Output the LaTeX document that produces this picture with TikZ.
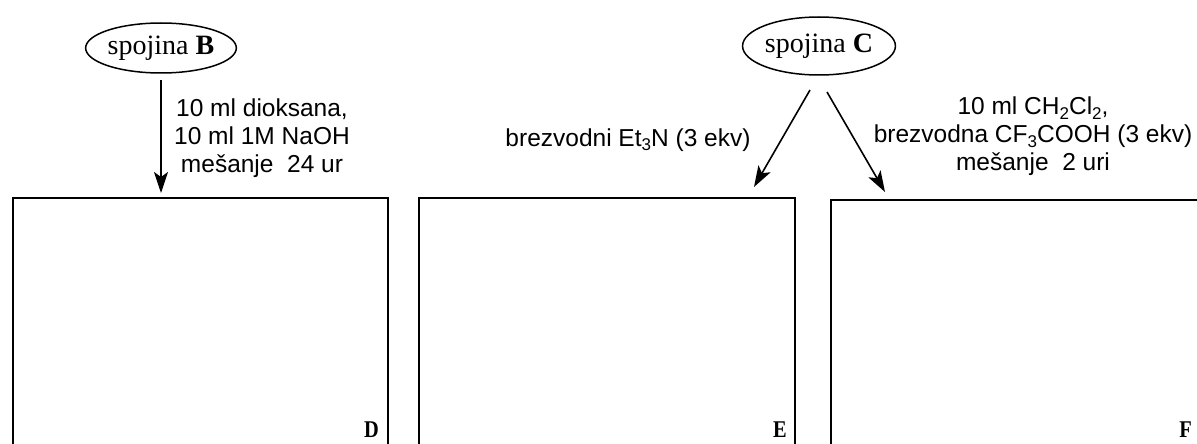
\documentclass[tikz,border=0pt]{standalone}
\usepackage{fontspec}
\setmainfont{Liberation Serif}
\newfontfamily\arial{Liberation Sans}
\usetikzlibrary{shapes.geometric,arrows.meta}
\newcommand\chsub[1]{\raisebox{-5pt}{\fontsize{17}{17}\selectfont #1}}
\begin{document}
\begin{tikzpicture}[x=1pt,y=-1pt,
  compound/.style={ellipse, draw, line width=1.5pt, minimum width=144pt, minimum height=50pt, inner sep=0pt, font=\fontsize{28}{30}\selectfont},
  cond/.style={font=\arial\fontsize{24.5}{28}\selectfont, align=center, inner sep=0pt},
  rxn/.style={-{Stealth[length=21pt,width=14pt,inset=5pt]}, line width=1.6pt},
  boxnode/.style={draw, line width=1.9pt, anchor=north west, inner sep=0pt},
  lbl/.style={font=\fontsize{24}{24}\selectfont\bfseries, inner sep=0pt, anchor=base east, xscale=0.85}]
\useasboundingbox (0,0) rectangle (1197,444);
\clip (0,0) rectangle (1197,444);
% compounds
\node[compound] (B) at (161,48) {spojina \textbf{B}};
\node[compound, minimum height=58pt, minimum width=146pt] (C) at (819,46) {spojina \textbf{C}};
% product boxes (open below the picture's edge)
\node[boxnode, minimum width=375pt, minimum height=280pt] (D) at (12,197) {};
\node[boxnode, minimum width=376pt, minimum height=280pt] (E) at (418,197) {};
\node[boxnode, minimum width=420pt, minimum height=280pt] (F) at (830,199) {};
% box labels
\node[lbl] (Dl) at (379,437) {D};
\node[lbl] (El) at (787,437) {E};
\node[lbl] (Fl) at (1192,437) {F};
% arrows
\coordinate (bs) at (161,80);
\coordinate (bt) at (161,193);
\coordinate (cl1) at (810,90);
\coordinate (cl2) at (754,187);
\coordinate (cr1) at (827,92);
\coordinate (cr2) at (885,192);
\draw[rxn] (bs) -- (bt);
\draw[rxn] (cl1) -- (cl2);
\draw[rxn] (cr1) -- (cr2);
% conditions
\node[cond] (tB) at (262,138) {10 ml dioksana,\\10 ml 1M NaOH\\me\v{s}anje\ \ 24 ur};
\node[cond, anchor=base] (tE) at (628,146) {brezvodni Et\chsub{3}N (3 ekv)};
\node[cond] (tF) at (1033,136) {10 ml CH\chsub{2}Cl\chsub{2},\\brezvodna CF\chsub{3}COOH (3 ekv)\\me\v{s}anje\ \ 2 uri};
\end{tikzpicture}
\end{document}
